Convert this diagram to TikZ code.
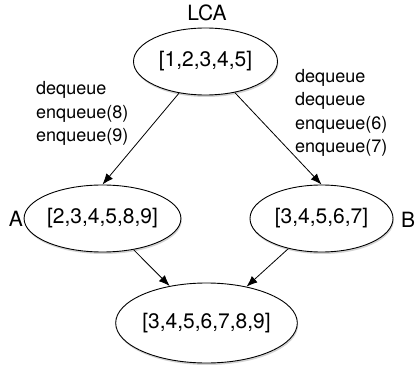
\documentclass[tikz,border=0pt]{standalone}
\usepackage{fontspec}
\setmainfont{TeX Gyre Heros}
\usetikzlibrary{arrows.meta,shapes.geometric,shadows}
\begin{document}
\begin{tikzpicture}[x=1pt,y=-1pt,
  queue/.style={ellipse, draw, line width=0.9pt, fill=white, inner sep=0pt,
    font=\fontsize{21}{25}\selectfont,
    drop shadow={shadow xshift=0.8pt, shadow yshift=-2pt, opacity=0.35}},
  tag/.style={inner sep=0pt, font=\fontsize{21}{25}\selectfont},
  ops/.style={inner sep=0pt, anchor=west, align=left,
    font=\fontsize{18}{23.5}\selectfont},
  flow/.style={-{Latex[length=11pt,width=8.5pt]}, line width=0.8pt}]
  \useasboundingbox (0,0) rectangle (415,374);

  % queue states
  \node[queue, minimum width=144pt, minimum height=67pt] (lca) at (205.5,61.5) {[1,2,3,4,5]};
  \node[queue, minimum width=143pt, minimum height=67pt] (a) at (102.5,218.5) {[2,3,4,5,8,9]};
  \node[queue, minimum width=143pt, minimum height=67pt] (b) at (321.5,218.5) {[3,4,5,6,7]};
  \node[queue, minimum width=153pt, minimum height=80pt] (m) at (206.5,323) {[3,4,5,6,7,8,9]};

  % names
  \node[tag] (lcaname) at (207,13) {LCA};
  \node[tag] (aname) at (16,219) {A};
  \node[tag] (bname) at (408,220) {B};

  % operations on each branch
  \node[ops] (opsa) at (36,113.5) {dequeue\\enqueue(8)\\enqueue(9)};
  \node[ops] (opsb) at (295,113) {dequeue\\dequeue\\enqueue(6)\\enqueue(7)};

  % edges
  \draw[flow] (lca) -- (a.north);
  \draw[flow] (lca) -- (b.north);
  \draw[flow] (a) -- (m);
  \draw[flow] (b) -- (m);
\end{tikzpicture}
\end{document}
